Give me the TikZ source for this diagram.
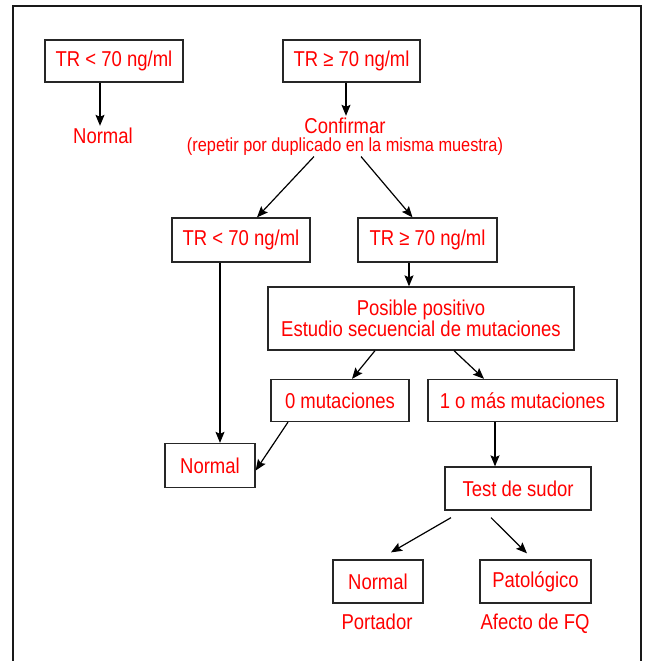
\documentclass[tikz,border=0pt]{standalone}
\usepackage{fontspec}
\setmainfont{Liberation Sans}[FakeStretch=0.86]
\usepackage{tikz}
\usetikzlibrary{arrows.meta}
\newcommand{\boxfont}{\fontsize{21.5}{21}\selectfont}
\newcommand{\notefont}{\fontsize{19}{19}\selectfont}
\tikzset{
	testbox/.style = {draw=black!85, line width=1.3pt, text=red, font=\boxfont,
		inner sep=0pt, minimum height=42pt, align=center},
	result/.style = {text=red, font=\boxfont, inner sep=1pt, anchor=base},
	remark/.style = {text=red, font=\notefont, inner sep=1pt, anchor=base},
	frame/.style = {-, draw=black!90, line width=1.5pt}
}
\begin{document}
\begin{tikzpicture}[->,>={Stealth[length=11pt,width=9pt,inset=2pt]}, line width=1.2pt,
	x=1pt, y=-1pt]
\useasboundingbox (0,0) rectangle (652,661);
\draw[frame] (13,661) -- (13,6) -- (641,6) -- (641,661);
% first screening
\node [testbox, minimum width=138pt] (trlow) at (114,61) {TR < 70 ng/ml};
\node [testbox, minimum width=137pt] (trhigh) at (351.5,61) {TR ≥ 70 ng/ml};
\node [result] (normA) at (103,143) {Normal};
\node [result] (conf) at (345,133) {Confirmar};
\node [remark] (confnote) at (345,151) {(repetir por duplicado en la misma muestra)};
% second determination
\node [testbox, minimum width=138pt, minimum height=44pt] (trlowB) at (241,240) {TR < 70 ng/ml};
\node [testbox, minimum width=139pt, minimum height=44pt] (trhighB) at (427.5,240) {TR ≥ 70 ng/ml};
\node [testbox, minimum width=306pt, minimum height=63pt] (posible) at (421,318.5)
	{Posible positivo\\Estudio secuencial de mutaciones};
\node [testbox, minimum width=138pt] (mut0) at (340,400.5) {0 mutaciones};
\node [testbox, minimum width=189pt] (mut1) at (522.5,400.5) {1 o más mutaciones};
\node [testbox, minimum width=90pt, minimum height=44pt] (normB) at (210,465.5) {Normal};
% sweat test
\node [testbox, minimum width=146pt, minimum height=43pt] (sudor) at (518,488.5) {Test de sudor};
\node [testbox, minimum width=90pt, minimum height=43pt] (normC) at (378,581.5) {Normal};
\node [testbox, minimum width=111pt, minimum height=43pt] (patol) at (535.5,581.5) {Patológico};
\node [result] (portador) at (377,629) {Portador};
\node [result] (afecto) at (535,629) {Afecto de FQ};
% arrows
\draw ([xshift=-14pt]trlow.south) -- ([xshift=-14pt]trlow.south |- normA.north);
\draw ([xshift=-5.5pt]trhigh.south) -- ([xshift=-5.5pt]trhigh.south |- conf.north);
\draw ([xshift=-31pt]confnote.south) -- ([xshift=16pt]trlowB.north);
\draw ([xshift=16pt]confnote.south) -- ([xshift=-15pt]trhighB.north);
\draw ([xshift=-18.5pt]trhighB.south) -- ([xshift=-18.5pt]trhighB.south |- posible.north);
\draw ([xshift=-46pt]posible.south) -- ([xshift=12pt]mut0.north);
\draw ([xshift=33pt]posible.south) -- ([xshift=-38.5pt]mut1.north);
\draw ([xshift=-21pt]trlowB.south) -- ([xshift=-21pt]trlowB.south |- normB.north);
\draw ([xshift=-52pt]mut0.south) -- ([yshift=-5pt]normB.east);
\draw ([xshift=-27.5pt]mut1.south) -- ([xshift=-27.5pt]mut1.south |- sudor.north);
\draw ([xshift=-67pt,yshift=-7pt]sudor.south) -- ([xshift=13pt,yshift=7pt]normC.north);
\draw ([xshift=-27pt,yshift=-7pt]sudor.south) -- ([xshift=-8.5pt,yshift=6pt]patol.north);
\end{tikzpicture}
\end{document}
